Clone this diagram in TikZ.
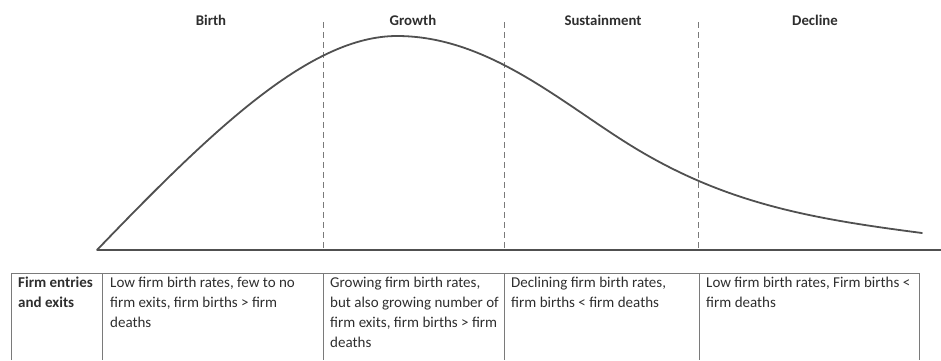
\documentclass[tikz,border=0pt]{standalone}
\usepackage{fontspec}
\setmainfont{Carlito}
\usetikzlibrary{positioning}
\definecolor{curvegray}{HTML}{505050}
\definecolor{textgray}{HTML}{2E2E2E}
\definecolor{linegray}{HTML}{7A7A7A}

\tikzset{
  phase/.style={anchor=base, font=\bfseries\fontsize{14.8}{17}\selectfont, text=textgray},
  cell/.style={anchor=north west, align=left, inner sep=0pt, font=\fontsize{15}{20}\selectfont, text=textgray},
  divider/.style={linegray, line width=0.9pt, dash pattern=on 6pt off 4pt},
  grid/.style={linegray, line width=0.8pt}
}

\begin{document}
\begin{tikzpicture}[x=1pt,y=-1pt]
  \useasboundingbox (0,0) rectangle (941,360);

  % phase names
  \node[phase] (birth) at (211,25) {Birth};
  \node[phase] (growth) at (413,25) {Growth};
  \node[phase] (sustain) at (603,25) {Sustainment};
  \node[phase] (decline) at (815,25) {Decline};

  % phase borders
  \foreach \x/\n in {323/a, 504/b, 698/c} {
    \coordinate (top\n) at (\x,22);
    \coordinate (bot\n) at (\x,248);
    \draw[divider] (top\n) -- (bot\n);
  }

  % axis and curve
  \coordinate (origin) at (97,250);
  \coordinate (axisend) at (941,250);
  \coordinate (peak) at (397,36);
  \coordinate (bend) at (630,145);
  \coordinate (tail) at (922,233);
  \draw[curvegray, line width=1.6pt] (origin) -- (axisend);
  \draw[curvegray, line width=1.8pt, line cap=round]
    (origin) .. controls (217,125) and (312,36) .. (peak)
    .. controls (487,36) and (560,101.6) .. (bend)
    .. controls (725,203.9) and (812,218.7) .. (tail);

  % table
  \draw[grid] (11,360) -- (11,273) -- (919,273) -- (919,360);
  \foreach \x in {102,323,504,699}
    \draw[grid] (\x,273) -- (\x,360);

  \node[cell] (rowhead) at (18,277) {\bfseries Firm entries\\\bfseries and exits};
  \node[cell] (cellbirth) at (110,277) {Low firm birth rates, few to no\\firm exits, firm births > firm\\deaths};
  \node[cell] (cellgrowth) at (330,277) {Growing firm birth rates,\\but also growing number of\\firm exits, firm births > firm\\deaths};
  \node[cell] (cellsustain) at (511,277) {Declining firm birth rates,\\firm births < firm deaths};
  \node[cell] (celldecline) at (706,277) {Low firm birth rates, Firm births <\\firm deaths};
\end{tikzpicture}
\end{document}
